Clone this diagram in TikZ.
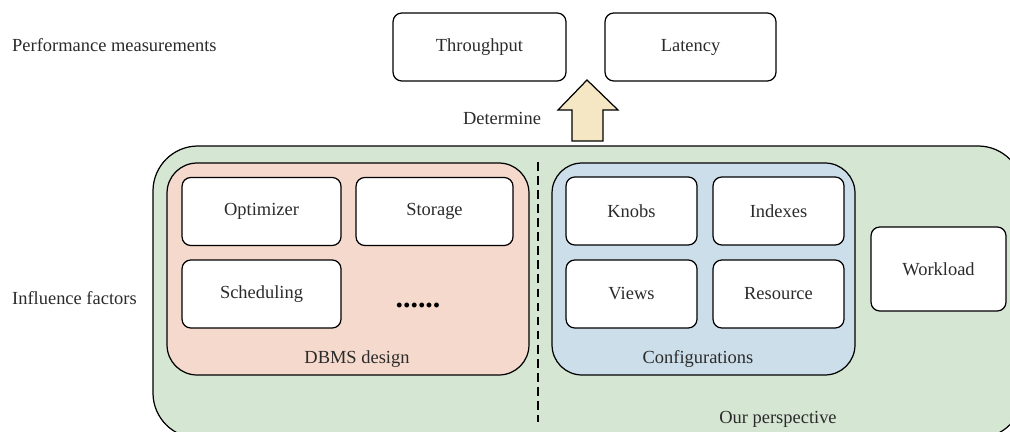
\documentclass[tikz,border=0pt]{standalone}
\usepackage{fontspec}
\setmainfont{Liberation Serif}

\definecolor{perspfill}{HTML}{D5E6D3}
\definecolor{dbmsfill}{HTML}{F5D9CC}
\definecolor{conffill}{HTML}{CCDEEA}
\definecolor{arrowfill}{HTML}{F6E7C4}
\definecolor{txt}{HTML}{2B2B2B}

\tikzset{
  factor/.style={draw, fill=white, rounded corners=5pt, line width=0.7pt,
    minimum height=1.36cm, text=txt},
  group/.style={draw, rounded corners=0.6cm, line width=0.7pt,
    minimum width=#1, minimum height=4.24cm},
  caption/.style={text=txt}
}

\begin{document}
\begin{tikzpicture}[x=0.02cm, y=-0.02cm, font=\fontsize{10.5}{12}\selectfont]
        \useasboundingbox (0,0) rectangle (1010,432);
        \clip (0,0) rectangle (1010,432);

        % Rotulos de la izquierda
        \node[caption, anchor=west] (perf) at (6,45) {Performance measurements};
        \node[caption, anchor=west] (infl) at (6,298) {Influence factors};

        % Medidas
        \node[factor, minimum width=3.46cm] (thr) at (479.5,47) {Throughput};
        \node[factor, minimum width=3.42cm] (lat) at (690.5,47) {Latency};

        % Flecha gruesa
        \draw[fill=arrowfill, line width=0.7pt] (572,141) -- (572,110) -- (558,110)
            -- (587,80) -- (618,110) -- (603,110) -- (603,141) -- cycle;
        \node[caption] (det) at (502,118) {Determine};

        % Zona verde
        \draw[fill=perspfill, line width=0.7pt, rounded corners=0.9cm]
            (153,146) rectangle (1023,438);
        \draw[dashed, line width=0.8pt, dash pattern=on 5pt off 3pt] (538,162) -- (538,422);
        \node[caption] (persp) at (778,419) {Our perspective};

        % Diseño del DBMS
        \node[group=7.24cm, fill=dbmsfill] (dbms) at (348,269) {};
        \node[caption] (dbmslbl) at (357,359) {DBMS design};
        \node[factor, minimum width=3.18cm] (opt) at (261.5,211.5) {Optimizer};
        \node[factor, minimum width=3.14cm] (sto) at (434.5,211.5) {Storage};
        \node[factor, minimum width=3.18cm] (sch) at (261.5,294) {Scheduling};
        \node[anchor=base, text=black, font=\fontsize{17}{17}\selectfont\bfseries]
            (more) at (418,307) {......};

        % Configuraciones
        \node[group=6.06cm, fill=conffill] (conf) at (703.5,269) {};
        \node[caption] (conflbl) at (698,359) {Configurations};
        \node[factor, minimum width=2.62cm] (knobs) at (631.5,211) {Knobs};
        \node[factor, minimum width=2.62cm] (idx) at (778.5,211) {Indexes};
        \node[factor, minimum width=2.62cm] (views) at (631.5,294) {Views};
        \node[factor, minimum width=2.62cm] (res) at (778.5,294) {Resource};

        % Carga de trabajo
        \node[factor, minimum width=2.7cm, minimum height=1.68cm] (wl) at (938.5,269) {Workload};
    \end{tikzpicture}
\end{document}
